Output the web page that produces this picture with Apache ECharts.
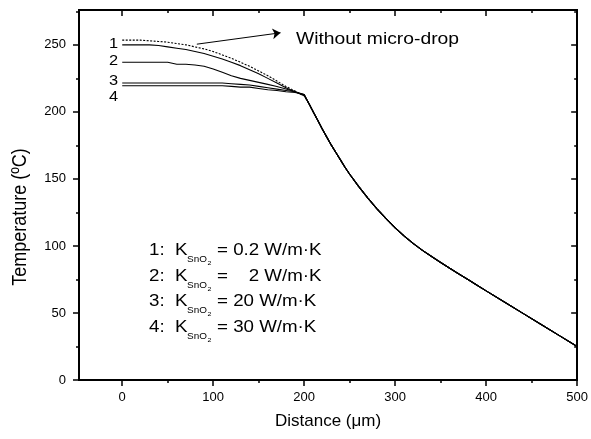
<!DOCTYPE html>
<html>
<head>
<meta charset="utf-8">
<script src="https://cdn.jsdelivr.net/npm/echarts@6/dist/echarts.min.js"></script>
<style>html,body{margin:0;padding:0;background:#fff;}#c{width:591px;height:439px;}</style>
</head>
<body>
<div id="c"></div>
<script>
// ---- data ----
const headX = [0,10,20,30,40,50,60,70,80,90,100,110,120,130,140,150,160,170,180,190,200];
const noDropHead = [253.5,253.5,253.5,253,252.5,252,251,250,248.5,247,245,242.5,240,237,234,230.5,227,223,219,215.5,212];
const k02Head = [250,250,250,250,249.5,248.5,247.5,246.5,245,243.5,241.5,239.5,237,234.5,231.5,228.5,225,221.5,218,215,212];
const k2Head  = [237,237,237,237,237,237,235.5,235.5,235,234,232,229.5,227,225,223.5,222,220.5,219,217,215,212.5];
const k20Head = [221.5,221.5,221.5,221.5,221.5,221.5,221.5,221.5,221.5,221.5,221.5,221.5,221,220.5,220,219,218,217,216,215,213];
const k30Head = [219.5,219.5,219.5,219.5,219.5,219.5,219.5,219.5,219.5,219.5,219.5,219.5,219,218.5,218.5,217.5,216.5,216,215,214.5,213];
const tailX = [205,210,215,220,225,230,235,240,245,250,260,270,280,290,300,310,320,330,340,350,360,370,380,390,400,420,440,460,480,500];
const tailT = [206.5,200,193.5,187,181,175,169.5,164,158.5,153.5,144.3,135.7,127.7,120.3,113.5,107.3,101.7,96.7,92.1,87.7,83.3,79.1,74.9,70.7,66.5,58.2,49.9,41.6,33.3,25];
const xMajorTicks = [0,100,200,300,400,500];
const xMinorTicks = [50,150,250,350,450];
const yMajorTicks = [0,50,100,150,200,250];
const yMinorTicks = [25,75,125,175,225,275];
const curveLabels = ['1','2','3','4'];
const legendNums = ['1:','2:','3:','4:'];
const legendVals = ['= 0.2 W/m\u00b7K','=    2 W/m\u00b7K','= 20 W/m\u00b7K','= 30 W/m\u00b7K'];
const arrowFrom = [82, 250.5];
const arrowTo = [174, 259];

const FONT = '"Liberation Sans", Arial, sans-serif';
const SX = 1.17;
const X_MIN = -47.5, X_MAX = 500, Y_MIN = 0, Y_MAX = 276;

function build(head){
  const d = head.map((v,i)=>[headX[i], v]);
  tailX.forEach((x,i)=>d.push([x, tailT[i]]));
  return d;
}

const chart = echarts.init(document.getElementById('c'), null, {renderer:'canvas'});

function xAx(position, ticks, len, inside, labels){
  return {
    type:'value', position, min:X_MIN, max:X_MAX,
    axisLine:{show:true, onZero:false, lineStyle:{color:'#000', width:2}},
    axisTick:{show:true, customValues:ticks, length:len, inside, lineStyle:{color:'#000', width:1.5}},
    axisLabel:{show:labels, customValues:labels?ticks:undefined, color:'#000', fontFamily:FONT, fontSize:13, margin:11},
    splitLine:{show:false}
  };
}
function yAx(position, ticks, len, inside, labels){
  return {
    type:'value', position, min:Y_MIN, max:Y_MAX,
    axisLine:{show:true, onZero:false, lineStyle:{color:'#000', width:2}},
    axisTick:{show:true, customValues:ticks, length:len, inside, lineStyle:{color:'#000', width:1.5}},
    axisLabel:{show:labels, customValues:labels?ticks:undefined, color:'#000', fontFamily:FONT, fontSize:13, margin:13},
    splitLine:{show:false}
  };
}

const xAxes = [
  Object.assign(xAx('bottom', xMajorTicks, 6, false, true), {
    name:'Distance (\u03bcm)', nameLocation:'middle', nameGap:33,
    nameTextStyle:{color:'#000', fontFamily:FONT, fontSize:17}
  }),
  xAx('bottom', xMinorTicks, 3, false, false),
  xAx('top', xMajorTicks, 6, true, false),
  xAx('top', xMinorTicks, 3, true, false)
];
const yAxes = [
  yAx('left', yMajorTicks, 6, false, true),
  yAx('left', yMinorTicks, 3, false, false),
  yAx('right', yMajorTicks, 6, true, false),
  yAx('right', yMinorTicks, 3, true, false)
];

const line = (name, head, dotted, extra) => Object.assign({
  type:'line', name, data:build(head), showSymbol:false, symbol:'none', silent:true,
  animation:false, xAxisIndex:0, yAxisIndex:0,
  lineStyle:{color:'#000', width:1.1, type: dotted ? [2,1.5] : 'solid'}
}, extra||{});

const series = [
  line('Without micro-drop', noDropHead, true, {
    markLine:{
      silent:true, animation:false, symbol:['none','arrow'], symbolSize:8,
      label:{show:false},
      lineStyle:{color:'#000', width:1, type:'solid'},
      data:[[{coord:arrowFrom},{coord:arrowTo}]]
    }
  }),
  line('1', k02Head, false),
  line('2', k2Head, false),
  line('3', k20Head, false),
  line('4', k30Head, false)
];

// text annotations
const graphic = [];
graphic.push({type:'text', x:20, y:217, rotation:Math.PI/2, scaleY:SX,
  style:{text:'Temperature (\u00baC)', font:'18px '+FONT, fill:'#000', align:'center', verticalAlign:'middle'}});
graphic.push({type:'text', x:296, y:39, scaleX:SX,
  style:{text:'Without micro-drop', font:'16.5px '+FONT, fill:'#000', align:'left', verticalAlign:'middle'}});
const curveLabelY = [44, 61.5, 81.5, 97];
curveLabels.forEach((t,i)=>{
  graphic.push({type:'text', x:118, y:curveLabelY[i], scaleX:SX,
    style:{text:t, font:'14px '+FONT, fill:'#000', align:'right', verticalAlign:'middle'}});
});
const rowY = [251, 276.5, 302, 327.5];
legendNums.forEach((t,i)=>{
  const y = rowY[i];
  graphic.push({type:'text', x:149, y, scaleX:SX, style:{text:t, font:'16px '+FONT, fill:'#000', verticalAlign:'middle'}});
  graphic.push({type:'text', x:175, y, scaleX:SX, style:{text:'K', font:'16px '+FONT, fill:'#000', verticalAlign:'middle'}});
  graphic.push({type:'text', x:187, y:y+9, scaleX:SX, style:{text:'SnO', font:'8.5px '+FONT, fill:'#000', verticalAlign:'middle'}});
  graphic.push({type:'text', x:207.5, y:y+12.5, scaleX:SX, style:{text:'2', font:'6px '+FONT, fill:'#000', verticalAlign:'middle'}});
  graphic.push({type:'text', x:217, y, scaleX:SX, style:{text:legendVals[i], font:'16px '+FONT, fill:'#000', verticalAlign:'middle'}});
});

chart.setOption({
  animation:false,
  backgroundColor:'#fff',
  grid:{left:79, right:11, top:10, bottom:59, containLabel:false},
  xAxis:xAxes,
  yAxis:yAxes,
  series,
  graphic
});
</script>
</body>
</html>
